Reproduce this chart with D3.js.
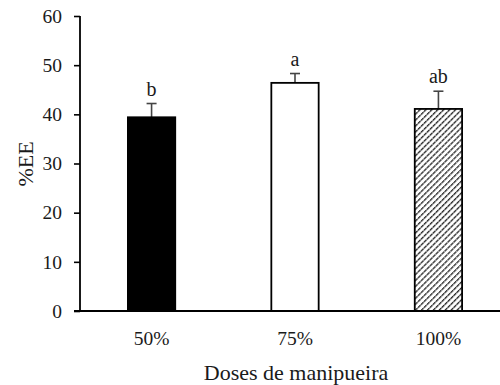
<!DOCTYPE html>
<html>
<head>
<meta charset="utf-8">
<script src="https://cdn.jsdelivr.net/npm/d3@7"></script>
<style>
  body { margin: 0; background: #fff; }
  text { font-family: "Liberation Serif", "Times New Roman", serif; fill: #1a1a1a; }
</style>
</head>
<body>
<svg id="chart" width="500" height="385"></svg>
<script>
// values
var doses = ["50%", "75%", "100%"];
var means = [39.4, 46.4, 41.1];
var errors = [2.8, 1.9, 3.6];
var letters = ["b", "a", "ab"];
var yTicks = [0, 10, 20, 30, 40, 50, 60];

var svg = d3.select("#chart");
var mLeft = 80, mTop = 16, mBottom = 311, mRight = 510;

var x = d3.scaleBand()
    .domain(doses)
    .range([mLeft, mRight])
    .paddingInner(0.67)
    .paddingOuter(0.334);

var y = d3.scaleLinear()
    .domain([0, 60])
    .range([mBottom, mTop]);

// hatch for the last bar
var defs = svg.append("defs");
var pat = defs.append("pattern")
    .attr("id", "hatch")
    .attr("patternUnits", "userSpaceOnUse")
    .attr("width", 4.2)
    .attr("height", 4.2)
    .attr("patternTransform", "rotate(45)");
pat.append("rect").attr("width", 4.2).attr("height", 4.2).attr("fill", "#fff");
pat.append("line")
    .attr("x1", 0.7).attr("y1", 0).attr("x2", 0.7).attr("y2", 4.2)
    .attr("stroke", "#222")
    .attr("stroke-width", 1.3)
    .attr("stroke-dasharray", "1.8,0.6");

var fills = ["#000", "#fff", "url(#hatch)"];

// error bars first, so bars sit on top of the stem
var eb = svg.append("g").selectAll("g")
    .data(doses).enter().append("g");

eb.append("line")
    .attr("x1", d => x(d) + x.bandwidth() / 2)
    .attr("x2", d => x(d) + x.bandwidth() / 2)
    .attr("y1", (d, i) => y(means[i]))
    .attr("y2", (d, i) => y(means[i] + errors[i]))
    .attr("stroke", "#444")
    .attr("stroke-width", 1.6);

eb.append("line")
    .attr("x1", d => x(d) + x.bandwidth() / 2 - 5)
    .attr("x2", d => x(d) + x.bandwidth() / 2 + 5)
    .attr("y1", (d, i) => y(means[i] + errors[i]))
    .attr("y2", (d, i) => y(means[i] + errors[i]))
    .attr("stroke", "#444")
    .attr("stroke-width", 1.6);

svg.append("g").selectAll("rect")
    .data(doses).enter().append("rect")
    .attr("x", d => x(d))
    .attr("y", (d, i) => y(means[i]))
    .attr("width", x.bandwidth())
    .attr("height", (d, i) => y(0) - y(means[i]))
    .attr("fill", (d, i) => fills[i])
    .attr("stroke", "#000")
    .attr("stroke-width", 1.8);

// significance letters
svg.append("g").selectAll("text")
    .data(doses).enter().append("text")
    .attr("x", d => x(d) + x.bandwidth() / 2)
    .attr("y", (d, i) => y(means[i] + errors[i]) - 8)
    .attr("text-anchor", "middle")
    .style("font-size", "20px")
    .text((d, i) => letters[i]);

// y axis
var yAxis = svg.append("g")
    .attr("transform", "translate(" + mLeft + ",0)")
    .call(d3.axisLeft(y).tickValues(yTicks).tickSize(6).tickPadding(12));
yAxis.selectAll("text").style("font-size", "19.5px").attr("fill", "#1a1a1a");
yAxis.selectAll("line").attr("stroke", "#000").attr("stroke-width", 1.6);
yAxis.select(".domain").attr("d", "M0," + mTop + "V" + mBottom).attr("stroke", "#000").attr("stroke-width", 1.8);

// x axis
svg.append("line")
    .attr("x1", mLeft - 6).attr("x2", 500)
    .attr("y1", mBottom).attr("y2", mBottom)
    .attr("stroke", "#000")
    .attr("stroke-width", 1.8);

svg.append("g").selectAll("text")
    .data(doses).enter().append("text")
    .attr("x", d => x(d) + x.bandwidth() / 2)
    .attr("y", mBottom + 34)
    .attr("text-anchor", "middle")
    .style("font-size", "19.5px")
    .text(d => d);

// axis titles
svg.append("text")
    .attr("x", 296)
    .attr("y", 380)
    .attr("text-anchor", "middle")
    .style("font-size", "22px")
    .text("Doses de manipueira");

svg.append("text")
    .attr("transform", "translate(33,164) rotate(-90)")
    .attr("text-anchor", "middle")
    .style("font-size", "22px")
    .text("%EE");
</script>
</body>
</html>
